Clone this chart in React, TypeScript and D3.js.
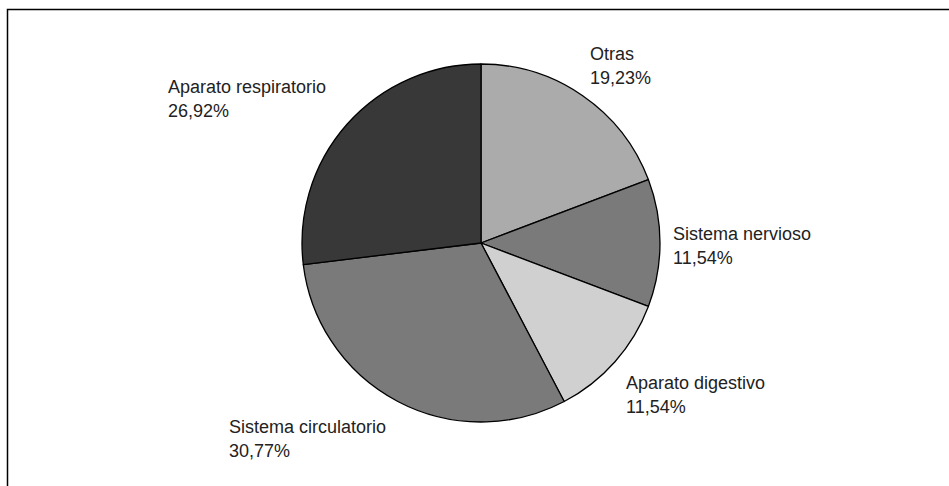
import React, { useRef, useEffect } from "react";
import * as d3 from "d3";

// causes of death (shares out of 26 cases)
const categories = [
  "Otras",
  "Sistema nervioso",
  "Aparato digestivo",
  "Sistema circulatorio",
  "Aparato respiratorio",
];
const counts = [5, 3, 3, 8, 7];
const fills = ["#ababab", "#7a7a7a", "#d0d0d0", "#7a7a7a", "#383838"];

// label anchor relative to pie centre (Excel style manual placement)
const labelOffsets: [number, number][] = [
  [109, -183],
  [192, -3],
  [145, 146],
  [-252, 190],
  [-313, -150],
];

const W = 949;
const H = 486;

const PieChart: React.FC = () => {
  const svgRef = useRef<SVGSVGElement>(null);

  useEffect(() => {
    if (!svgRef.current) return;
    document.body.style.margin = "0";
    const svg = d3.select(svgRef.current);
    svg.selectAll("*").remove();

    const cx = 481;
    const cy = 243;
    const radius = 179;

    svg
      .append("rect")
      .attr("x", 7.5)
      .attr("y", 9.5)
      .attr("width", W + 20)
      .attr("height", H + 20)
      .attr("fill", "#fff")
      .attr("stroke", "#000")
      .attr("stroke-width", 1.5);

    const total = d3.sum(counts);
    const pie = d3
      .pie<number>()
      .sort(null)
      .value((d) => d);
    const arc = d3.arc<d3.PieArcDatum<number>>().innerRadius(0).outerRadius(radius);

    const g = svg.append("g").attr("transform", `translate(${cx},${cy})`);

    g.selectAll("path")
      .data(pie(counts))
      .enter()
      .append("path")
      .attr("d", arc)
      .attr("fill", (d, i) => fills[i])
      .attr("stroke", "#000")
      .attr("stroke-width", 1.3)
      .attr("stroke-linejoin", "round");

    const fmt = (v: number) => ((v / total) * 100).toFixed(2).replace(".", ",") + "%";

    const labels = g
      .selectAll("text")
      .data(counts)
      .enter()
      .append("text")
      .attr("x", (d, i) => labelOffsets[i][0])
      .attr("y", (d, i) => labelOffsets[i][1])
      .attr("font-family", "'Liberation Sans', Arial, sans-serif")
      .attr("font-size", 18)
      .attr("fill", "#222");

    labels
      .append("tspan")
      .attr("x", (d, i) => labelOffsets[i][0])
      .text((d, i) => categories[i]);
    labels
      .append("tspan")
      .attr("x", (d, i) => labelOffsets[i][0])
      .attr("dy", 24)
      .text((d) => fmt(d));
  }, []);

  return <svg ref={svgRef} width={W} height={H} style={{ display: "block" }} />;
};

export default function App() {
  return <PieChart />;
}
